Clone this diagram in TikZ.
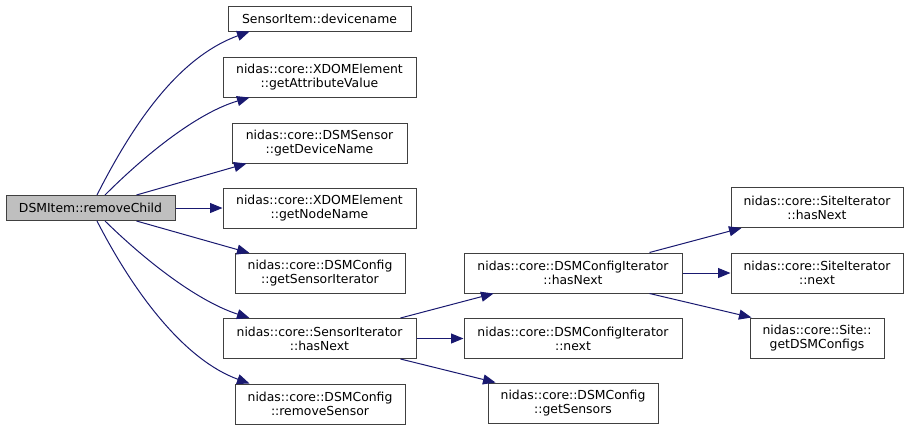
\documentclass[tikz,border=0pt]{standalone}
\usepackage{fontspec}
\setmainfont{DejaVu Sans}
\usetikzlibrary{arrows.meta}
\definecolor{edgec}{HTML}{191970}
\definecolor{boxc}{HTML}{404040}
\definecolor{rootc}{HTML}{BFBFBF}
\tikzset{
  fn/.style={draw=boxc, line width=1pt, fill=white, inner sep=0pt, align=center,
    font=\fontsize{12.4}{14}\selectfont, text=black},
  rootfn/.style={fn, fill=rootc},
  call/.style={draw=edgec, line width=1pt, -{Triangle[length=12.5pt,width=10pt]}, edgec},
}
\begin{document}
\begin{tikzpicture}[x=1pt,y=-1pt]
\useasboundingbox (0,0) rectangle (909,429);
\node[rootfn, minimum width=169pt, minimum height=25pt] (rc) at (90.5,208) {DSMItem::removeChild};
\node[fn, minimum width=183pt, minimum height=25pt] (dn) at (319.5,18.5) {SensorItem::devicename};
\node[fn, minimum width=193pt, minimum height=40pt] (gav) at (319.5,77) {nidas::core::XDOMElement\\::getAttributeValue};
\node[fn, minimum width=175pt, minimum height=40pt] (gdn) at (319.5,143) {nidas::core::DSMSensor\\::getDeviceName};
\node[fn, minimum width=193pt, minimum height=40pt] (gnn) at (319.5,208) {nidas::core::XDOMElement\\::getNodeName};
\node[fn, minimum width=170pt, minimum height=40pt] (gsi) at (320,273.5) {nidas::core::DSMConfig\\::getSensorIterator};
\node[fn, minimum width=193pt, minimum height=40pt] (sih) at (319.5,338.5) {nidas::core::SensorIterator\\::hasNext};
\node[fn, minimum width=170pt, minimum height=40pt] (rs) at (320,404) {nidas::core::DSMConfig\\::removeSensor};
\node[fn, minimum width=218pt, minimum height=40pt] (dch) at (573,273) {nidas::core::DSMConfigIterator\\::hasNext};
\node[fn, minimum width=218pt, minimum height=40pt] (dcn) at (573,338.5) {nidas::core::DSMConfigIterator\\::next};
\node[fn, minimum width=170pt, minimum height=40pt] (gs) at (573,403) {nidas::core::DSMConfig\\::getSensors};
\node[fn, minimum width=172pt, minimum height=40pt] (sh) at (817,207.5) {nidas::core::SiteIterator\\::hasNext};
\node[fn, minimum width=172pt, minimum height=40pt] (sn) at (817,273) {nidas::core::SiteIterator\\::next};
\node[fn, minimum width=134pt, minimum height=40pt] (gdc) at (817,338) {nidas::core::Site::\\getDSMConfigs};

\draw[call] ([xshift=6.5pt]rc.north) .. controls (140,110) and (185,55) .. ([xshift=22pt]dn.south west);
\draw[call] ([xshift=14.5pt]rc.north) .. controls (150,150) and (200,112) .. ([xshift=27pt]gav.south west);
\draw[call] ([xshift=46pt]rc.north) -- ([xshift=15pt]gdn.south west);
\draw[call] (rc.east) -- (gnn.west);
\draw[call] ([xshift=46pt]rc.south) -- ([xshift=15pt]gsi.north west);
\draw[call] ([xshift=14.5pt]rc.south) .. controls (150,265) and (200,302) .. ([xshift=27pt]sih.north west);
\draw[call] ([xshift=6.5pt]rc.south) .. controls (135,295) and (185,360) .. ([xshift=15pt]rs.north west);

\draw[call] ([xshift=-16pt]sih.north east) -- ([xshift=30pt]dch.south west);
\draw[call] (sih.east) -- (dcn.west);
\draw[call] ([xshift=-16pt]sih.south east) -- ([xshift=8pt]gs.north west);

\draw[call] ([xshift=-33pt]dch.north east) -- ([xshift=11pt]sh.south west);
\draw[call] (dch.east) -- (sn.west);
\draw[call] ([xshift=-33pt]dch.south east) -- ([xshift=2pt]gdc.north west);
\end{tikzpicture}
\end{document}
